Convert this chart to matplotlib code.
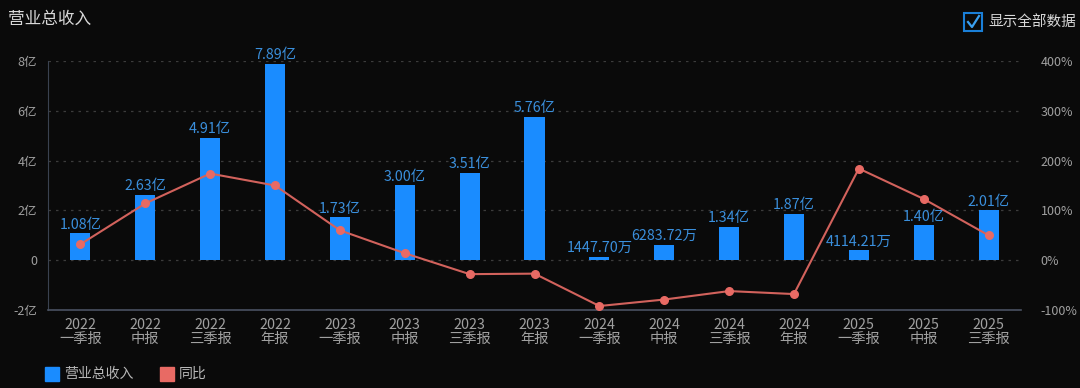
import matplotlib
matplotlib.use("Agg")
import matplotlib.pyplot as plt
from matplotlib.patches import Rectangle

plt.rcParams['font.family'] = ['Noto Sans CJK SC', 'DejaVu Sans']

# data
periods = ["2022\n一季报", "2022\n中报", "2022\n三季报", "2022\n年报",
           "2023\n一季报", "2023\n中报", "2023\n三季报", "2023\n年报",
           "2024\n一季报", "2024\n中报", "2024\n三季报", "2024\n年报",
           "2025\n一季报", "2025\n中报", "2025\n三季报"]
revenue = [1.08, 2.63, 4.91, 7.89, 1.73, 3.00, 3.51, 5.76,
           0.144770, 0.628372, 1.34, 1.87, 0.411421, 1.40, 2.01]  # 亿
revenue_labels = ["1.08亿", "2.63亿", "4.91亿", "7.89亿", "1.73亿", "3.00亿", "3.51亿", "5.76亿",
                  "1447.70万", "6283.72万", "1.34亿", "1.87亿", "4114.21万", "1.40亿", "2.01亿"]
yoy = [32, 114, 174, 150, 60, 14, -28, -27, -92, -79, -62, -68, 184, 123, 50]  # %
left_ticks = [-2, 0, 2, 4, 6, 8]
left_ticklabels = ["-2亿", "0", "2亿", "4亿", "6亿", "8亿"]
right_ticks = [-100, 0, 100, 200, 300, 400]
right_ticklabels = ["-100%", "0%", "100%", "200%", "300%", "400%"]

BG = '#0a0a0a'
BAR = '#1a8cff'
LINE = '#d2625c'
DOT = '#e86a64'
TXT = '#a0a0a0'
LBL = '#3a8fdc'

fig = plt.figure(figsize=(10.8, 3.88), dpi=100, facecolor=BG)
ax = fig.add_axes([48 / 1080, 78 / 388, (1021 - 48) / 1080, (310 - 61) / 388])
ax.set_facecolor(BG)
x = list(range(len(periods)))

ax.bar(x, revenue, width=0.31, color=BAR, zorder=2)
for xi, v, s in zip(x, revenue, revenue_labels):
    ax.text(xi, v + 0.06, s, ha='center', va='bottom', color=LBL, fontsize=10.3)

ax.set_xlim(-0.5, len(periods) - 0.5)
ax.set_ylim(-2, 8)
ax.set_yticks(left_ticks)
ax.set_yticklabels(left_ticklabels)
ax.set_xticks(x)
ax.set_xticklabels(periods, linespacing=1.0)
ax.tick_params(axis='x', colors=TXT, labelsize=10.3, length=0, pad=6)
ax.tick_params(axis='y', colors=TXT, labelsize=9, length=0, pad=8)
for t in ax.get_xticklabels() + ax.get_yticklabels():
    t.set_color(TXT)
for yv in left_ticks[1:]:
    ax.axhline(yv, color='#3c3c3c', linestyle=(0, (2, 4)), linewidth=0.9, zorder=1)
for side in ['top', 'right']:
    ax.spines[side].set_visible(False)
ax.spines['left'].set_color('#3a4250')
ax.spines['bottom'].set_color('#4a5262')
ax.spines['bottom'].set_linewidth(1.2)

ax2 = ax.twinx()
ax2.set_ylim(-100, 400)
ax2.plot(x, yoy, color=LINE, linewidth=1.5, zorder=3)
ax2.scatter(x, yoy, s=30, color=DOT, zorder=4)
ax2.set_yticks(right_ticks)
ax2.set_yticklabels(right_ticklabels)
ax2.tick_params(axis='y', colors=TXT, labelsize=9, length=0, pad=14)
for t in ax2.get_yticklabels():
    t.set_color(TXT)
for side in ['top', 'right', 'left', 'bottom']:
    ax2.spines[side].set_visible(False)

# title
fig.text(8 / 1080, 1 - 19 / 388, "营业总收入", color='#d8d8d8', fontsize=12, va='center', ha='left')

# checkbox
fig.patches.append(Rectangle((964 / 1080, 1 - 31 / 388), 18 / 1080, 18 / 388,
                             transform=fig.transFigure, fill=False, edgecolor='#1a7fd8', linewidth=1.5))
fig.lines.append(plt.Line2D([968 / 1080, 972 / 1080, 979 / 1080],
                            [1 - 22 / 388, 1 - 27 / 388, 1 - 16 / 388],
                            transform=fig.transFigure, color='#3aa0f0', linewidth=1.6))
fig.text(988 / 1080, 1 - 22 / 388, "显示全部数据", color='#d8d8d8', fontsize=10.5, va='center', ha='left')

# legend
fig.patches.append(Rectangle((45 / 1080, 1 - 381 / 388), 14 / 1080, 14 / 388,
                             transform=fig.transFigure, color=BAR))
fig.text(64 / 1080, 1 - 374 / 388, "营业总收入", color='#b8b8b8', fontsize=10, va='center', ha='left')
fig.patches.append(Rectangle((160 / 1080, 1 - 381 / 388), 14 / 1080, 14 / 388,
                             transform=fig.transFigure, color=DOT))
fig.text(179 / 1080, 1 - 374 / 388, "同比", color='#b8b8b8', fontsize=10, va='center', ha='left')

fig.savefig("out.png", dpi=100, facecolor=BG)
